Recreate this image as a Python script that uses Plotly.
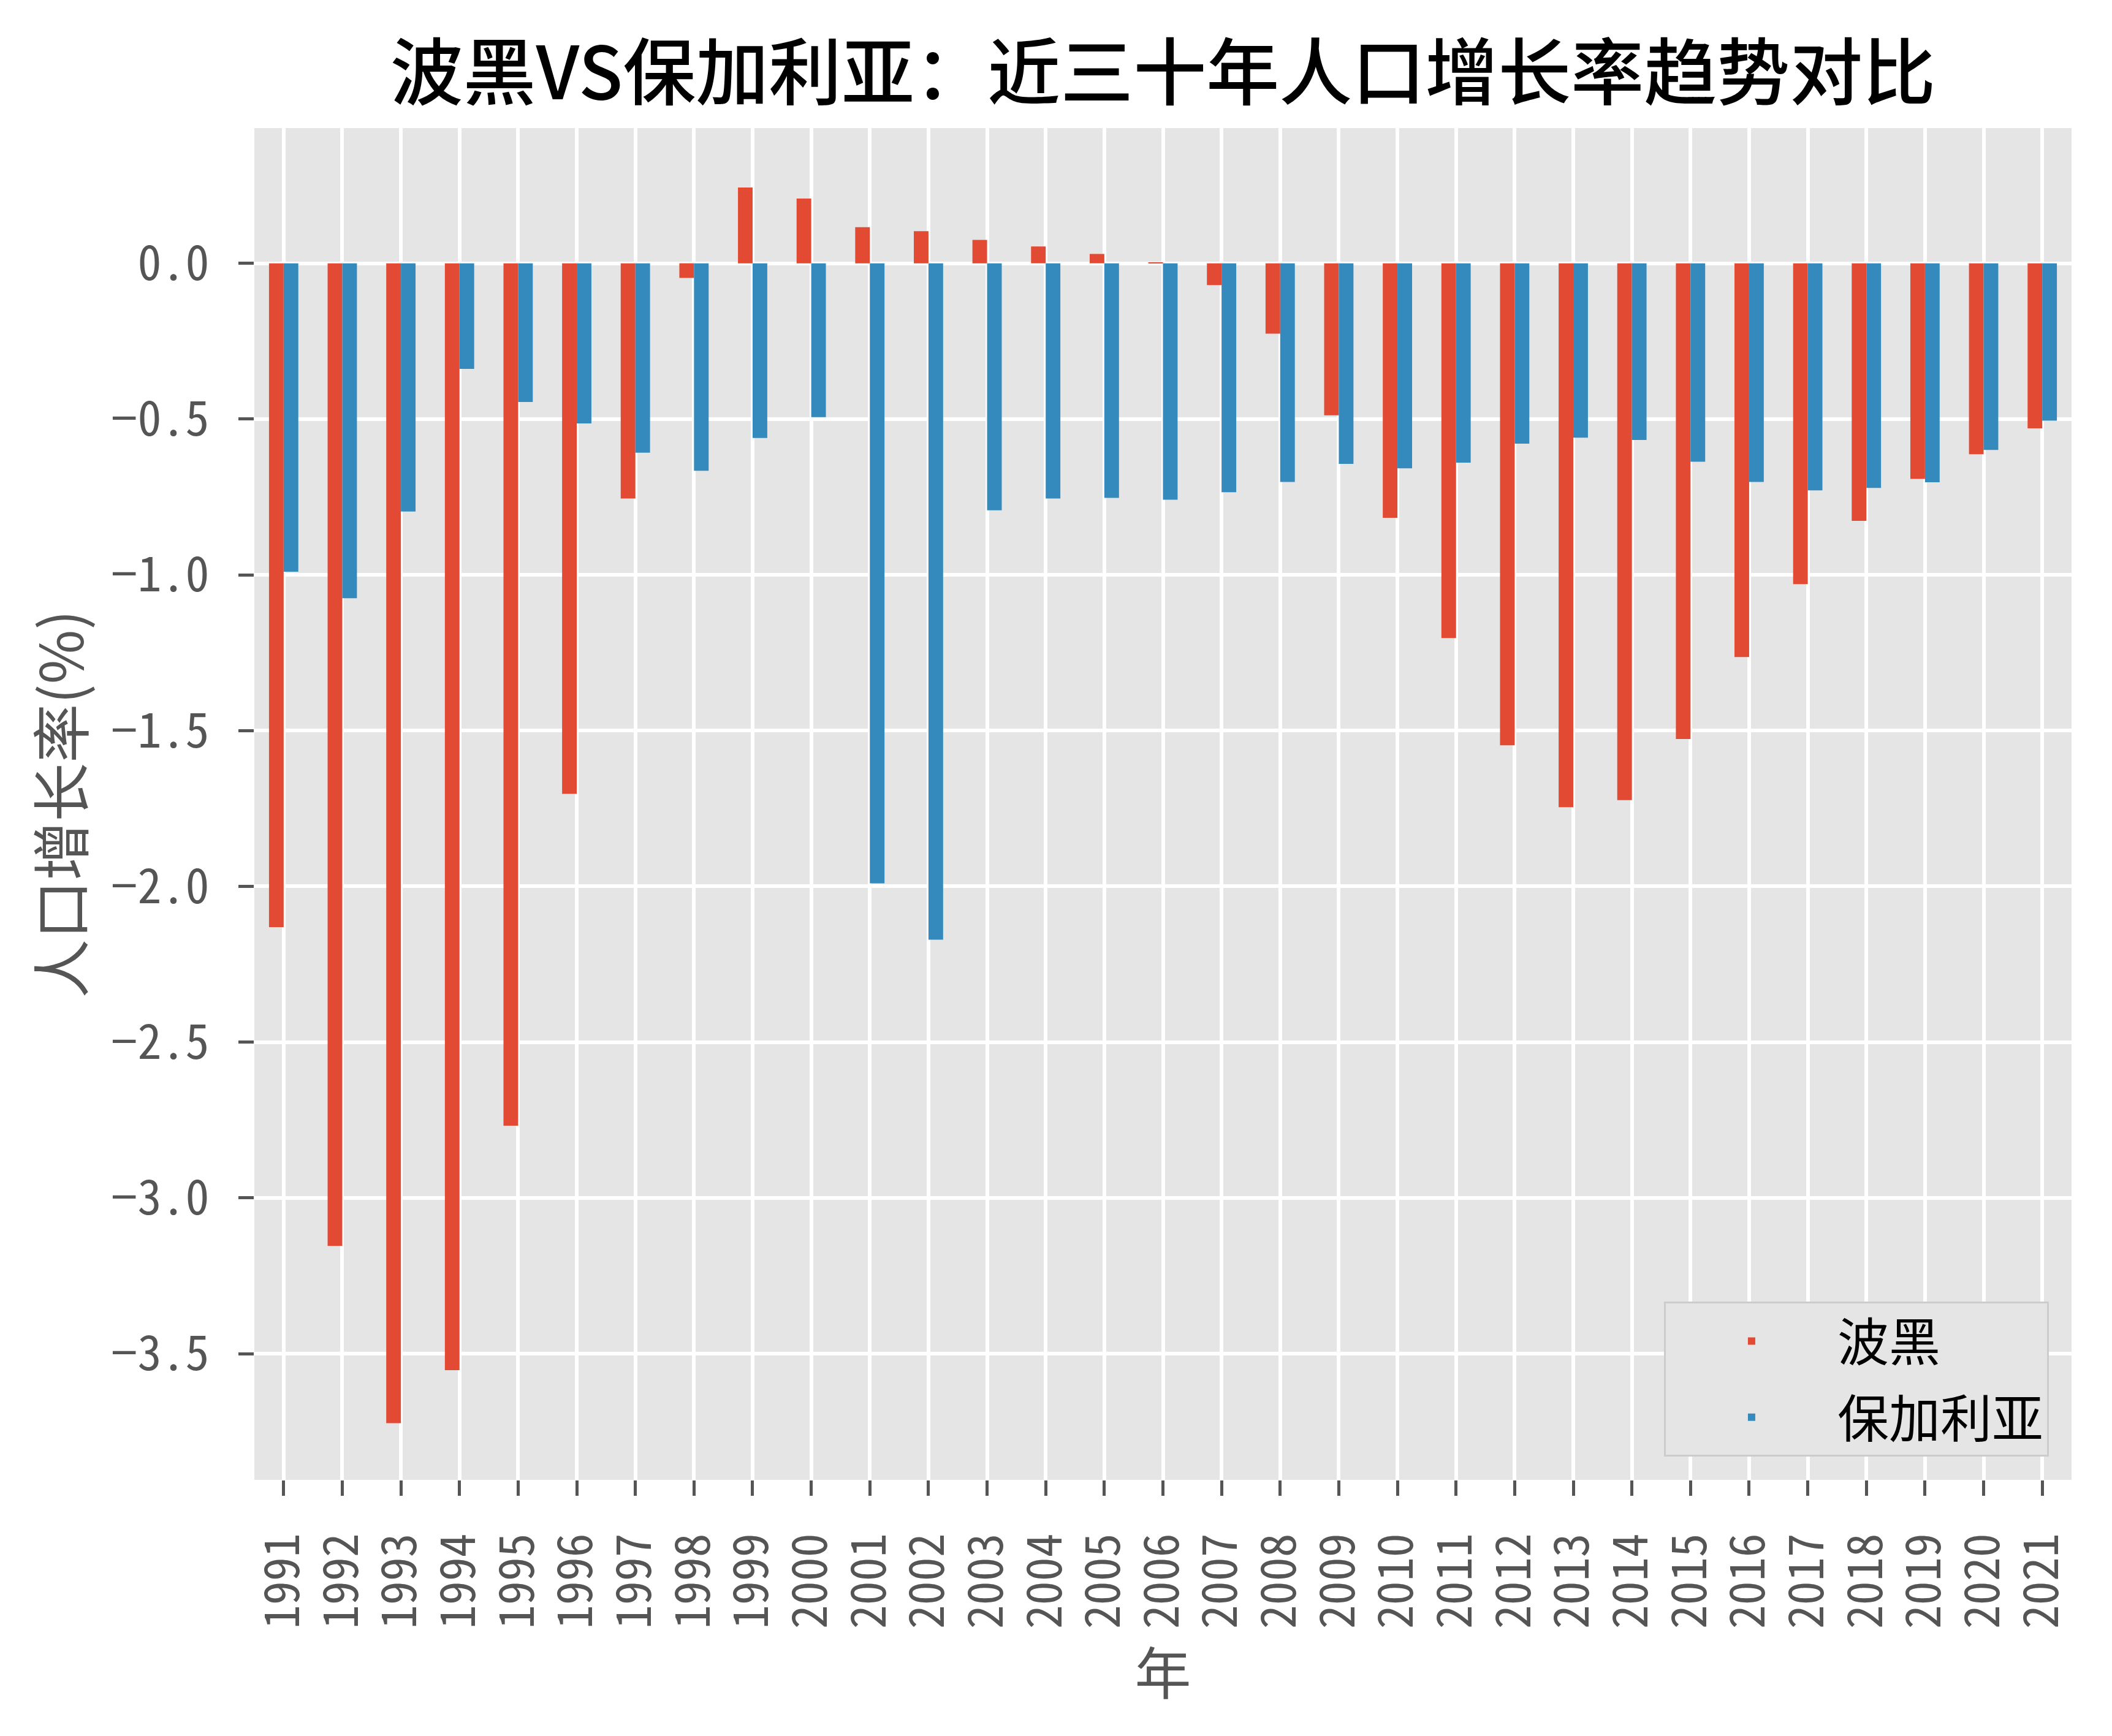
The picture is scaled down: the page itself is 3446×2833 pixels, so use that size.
import plotly.graph_objects as go

years = [str(y) for y in range(1991, 2022)]
bosnia = [-2.131, -3.154, -3.723, -3.553, -2.768, -1.703, -0.755, -0.047, 0.243, 0.208,
          0.116, 0.103, 0.075, 0.054, 0.030, 0.003, -0.070, -0.226, -0.488, -0.817,
          -1.203, -1.547, -1.746, -1.723, -1.527, -1.264, -1.030, -0.827, -0.692, -0.613, -0.530]
bulgaria = [-0.990, -1.075, -0.797, -0.339, -0.445, -0.514, -0.608, -0.666, -0.561, -0.494,
            -1.990, -2.171, -0.793, -0.755, -0.753, -0.759, -0.735, -0.702, -0.644, -0.658,
            -0.640, -0.579, -0.560, -0.567, -0.637, -0.702, -0.729, -0.721, -0.703, -0.599, -0.505]
series_names = ["波黑", "保加利亚"]
ytick_vals = [-3.5, -3.0, -2.5, -2.0, -1.5, -1.0, -0.5, 0.0]
ytick_text = ["−3.5", "−3.0", "−2.5", "−2.0", "−1.5", "−1.0", "−0.5", "0.0"]

FONT = "Noto Sans Mono CJK SC, Noto Sans CJK SC, sans-serif"
CJK = "Noto Sans CJK SC, sans-serif"

fig = go.Figure()
fig.add_trace(go.Bar(x=years, y=bosnia, name=series_names[0], marker_color="#E24A33",
                     marker_line_width=0, legendgroup="a"))
fig.add_trace(go.Bar(x=years, y=bulgaria, name=series_names[1], marker_color="#348ABD",
                     marker_line_width=0, legendgroup="b"))

# page body has an 8px default margin; size the figure so it fits the window
W, H = 3438, 2825
L, R, T, B = 407, 66, 201, 418

fig.update_layout(
    width=W, height=H,
    margin=dict(l=L, r=R, t=T, b=B, autoexpand=False),
    paper_bgcolor="white",
    plot_bgcolor="#E5E5E5",
    barmode="group", bargap=0.5, bargroupgap=0,
    title=dict(text="波黑VS保加利亚：近三十年人口增长率趋势对比",
               x=(L + (W - L - R) / 2) / W, xanchor="center",
               y=1 - 112 / H, yanchor="middle", yref="container",
               font=dict(family=CJK, size=119, color="black", weight=500)),
    legend=dict(x=0.9875, xanchor="right", y=0.017, yanchor="bottom",
                bgcolor="#E5E5E5", bordercolor="#CCCCCC", borderwidth=3,
                font=dict(family=CJK, size=84, color="black"),
                itemwidth=270, tracegroupgap=12),
    xaxis=dict(type="category", range=[-0.5, 30.5],
               showgrid=True, gridcolor="white", gridwidth=5.5,
               ticks="outside", ticklen=25, tickwidth=5, tickcolor="#555555",
               tickangle=-90, ticklabelstandoff=30,
               tickfont=dict(family=FONT, size=78, color="#555555"),
               title=dict(text="年", standoff=30,
                          font=dict(family=CJK, size=92, color="#555555")),
               showline=False, zeroline=False),
    yaxis=dict(range=[-3.905, 0.434], tickvals=ytick_vals, ticktext=ytick_text,
               showgrid=True, gridcolor="white", gridwidth=5.5,
               ticks="outside", ticklen=25, tickwidth=5, tickcolor="#555555",
               ticklabelstandoff=32,
               tickfont=dict(family=FONT, size=78, color="#555555"),
               title=dict(text="人口增长率(%)", standoff=12,
                          font=dict(family=CJK, size=96, color="#555555")),
               showline=False, zeroline=False),
)

fig.write_html("out.html")
